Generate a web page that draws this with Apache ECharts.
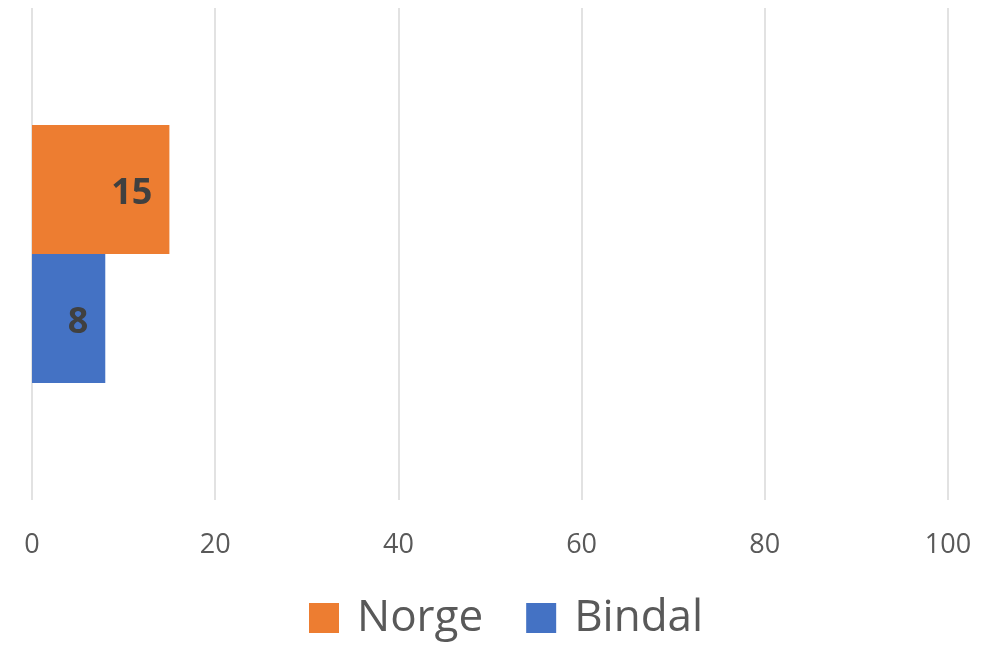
<!DOCTYPE html>
<html>
<head>
<meta charset="utf-8">
<script src="https://cdn.jsdelivr.net/npm/echarts@6/dist/echarts.min.js"></script>
<style>html,body{margin:0;padding:0;background:#fff}#c{width:991px;height:645px}</style>
</head>
<body>
<div id="c"></div>
<script>
var categories = [''];
var seriesNames = ['Norge', 'Bindal'];
var norgeValues = [15];
var bindalValues = [8];
var xTicks = [0, 20, 40, 60, 80, 100];

var chart = echarts.init(document.getElementById('c'), null, {renderer: 'canvas'});
var labelCfg = {
  show: true, position: 'insideRight', distance: 17, offset: [0, 4],
  fontFamily: 'Open Sans', fontWeight: 'bold', fontSize: 36, color: '#404040'
};
chart.setOption({
  animation: false,
  textStyle: {fontFamily: 'Open Sans'},
  grid: {left: 32, right: 43, top: 8, bottom: 145, containLabel: false},
  xAxis: {
    type: 'value', min: xTicks[0], max: xTicks[xTicks.length - 1], interval: 20,
    axisLine: {show: false}, axisTick: {show: false},
    splitLine: {show: true, lineStyle: {color: '#d9d9d9', width: 1.5}},
    axisLabel: {fontFamily: 'Open Sans', fontSize: 27, color: '#595959', margin: 32}
  },
  yAxis: {
    type: 'category', data: categories,
    axisLine: {show: false}, axisTick: {show: false}, axisLabel: {show: false},
    splitLine: {show: false}
  },
  legend: {
    data: seriesNames, left: 309, top: 593, padding: 0, icon: 'rect',
    itemWidth: 30, itemHeight: 30, itemGap: 43,
    textStyle: {fontFamily: 'Open Sans', fontSize: 44, color: '#595959', padding: [0, 0, 0, 13], lineHeight: 50}
  },
  series: [
    {name: 'Norge', type: 'bar', data: norgeValues, itemStyle: {color: '#ed7d31'},
     barGap: '0%', barCategoryGap: '47.6%', label: labelCfg},
    {name: 'Bindal', type: 'bar', data: bindalValues, itemStyle: {color: '#4472c4'},
     barGap: '0%', barCategoryGap: '47.6%', label: labelCfg}
  ]
});
</script>
</body>
</html>
